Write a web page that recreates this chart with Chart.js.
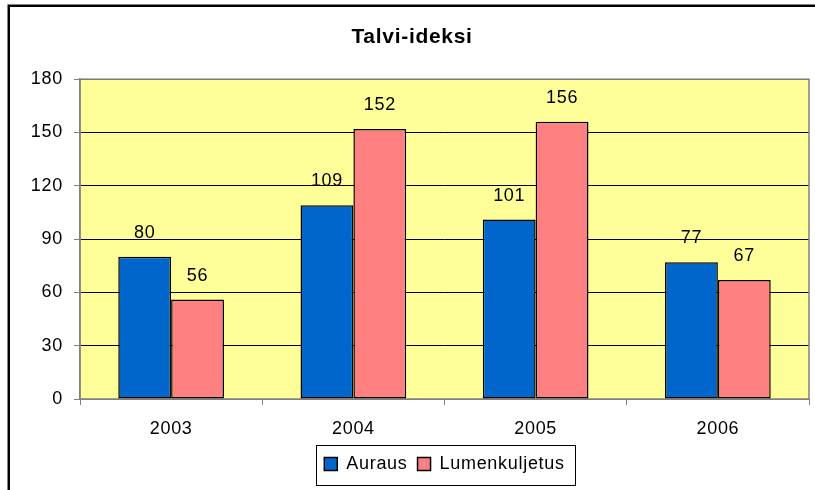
<!DOCTYPE html>
<html>
<head>
<meta charset="utf-8">
<script src="https://cdn.jsdelivr.net/npm/chart.js@4.4.1/dist/chart.umd.min.js"></script>
<style>
    html, body { margin: 0; padding: 0; background: #fff; }
    #wrap { width: 815px; height: 490px; }
</style>
</head>
<body>
<div id="wrap"><canvas id="chart_canvas" width="815" height="490"></canvas></div>
<script>
const years = ['2003', '2004', '2005', '2006'];
const auraus = [80, 109, 101, 77];
const lumenkuljetus = [56, 152, 156, 67];
const y_ticks = [0, 30, 60, 90, 120, 150, 180];

const COLORS = {
    blue: '#0066CC',
    pink: '#FF8080',
    plot_bg: '#FFFF99',
    gray: '#808080'
};

Chart.defaults.font.family = "'Liberation Sans', Arial, sans-serif";
Chart.defaults.color = '#000';

// letter spacing like the original renderer
const spacing_plugin = {
    id: 'spacing_plugin',
    beforeLayout: (chart) => { chart.ctx.letterSpacing = '0.7px'; },
    beforeDraw: (chart) => { chart.ctx.letterSpacing = '0.7px'; }
};

const plot_background = {
    id: 'plot_background',
    beforeDraw: (chart) => {
        const {ctx, chartArea} = chart;
        ctx.save();
        ctx.fillStyle = COLORS.plot_bg;
        ctx.fillRect(chartArea.left, chartArea.top, chartArea.right - chartArea.left, chartArea.bottom - chartArea.top);
        ctx.restore();
    },
    beforeDatasetsDraw: (chart) => {
        const {ctx, chartArea} = chart;
        ctx.save();
        ctx.strokeStyle = COLORS.gray;
        ctx.lineWidth = 1.5;
        ctx.strokeRect(chartArea.left, chartArea.top, chartArea.right - chartArea.left, chartArea.bottom - chartArea.top);
        ctx.restore();
    }
};

const value_labels = {
    id: 'value_labels',
    afterDatasetsDraw: (chart) => {
        const ctx = chart.ctx;
        ctx.save();
        ctx.font = "18px 'Liberation Sans', Arial, sans-serif";
        ctx.fillStyle = '#000';
        ctx.textAlign = 'center';
        ctx.textBaseline = 'alphabetic';
        chart.data.datasets.forEach((ds, i) => {
            chart.getDatasetMeta(i).data.forEach((bar, j) => {
                ctx.fillText(String(ds.data[j]), bar.x, bar.y - 19);
            });
        });
        ctx.restore();
    }
};

const frame_plugin = {
    id: 'frame_plugin',
    afterDraw: (chart) => {
        const ctx = chart.ctx;
        ctx.save();
        // legend box
        const boxes = chart.legend.legendHitBoxes;
        if (boxes && boxes.length) {
            const first = boxes[0];
            const last = boxes[boxes.length - 1];
            const left = first.left - 8;
            const right = last.left + last.width + 11;
            const top = first.top - 10;
            const bottom = first.top + first.height + 12;
            ctx.strokeStyle = '#000';
            ctx.lineWidth = 1;
            ctx.strokeRect(Math.round(left) + 0.5, Math.round(top) + 0.5, Math.round(right - left), Math.round(bottom - top));
        }
        // outer chart border (cropped on right and bottom)
        ctx.strokeStyle = '#000';
        ctx.lineWidth = 2.5;
        ctx.strokeRect(8.75, 5.75, 900, 900);
        ctx.restore();
    }
};

const config = {
    type: 'bar',
    data: {
        labels: years,
        datasets: [
            {
                label: 'Auraus',
                data: auraus,
                backgroundColor: COLORS.blue,
                borderColor: '#000',
                borderWidth: 1.5,
                borderSkipped: false
            },
            {
                label: 'Lumenkuljetus',
                data: lumenkuljetus,
                backgroundColor: COLORS.pink,
                borderColor: '#000',
                borderWidth: 1.5,
                borderSkipped: false
            }
        ]
    },
    options: {
        responsive: false,
        animation: false,
        categoryPercentage: 0.58,
        barPercentage: 1.0,
        layout: {
            padding: { left: 15, right: 6, top: 0, bottom: 7 }
        },
        scales: {
            x: {
                grid: {
                    display: true,
                    offset: true,
                    drawOnChartArea: false,
                    tickLength: 6,
                    tickColor: COLORS.gray
                },
                border: { color: COLORS.gray, width: 1 },
                ticks: {
                    font: { size: 18 },
                    color: '#000',
                    padding: 13
                },
                afterFit: (scale) => { scale.height = 46; }
            },
            y: {
                min: 0,
                max: 180,
                afterBuildTicks: (scale) => {
                    scale.ticks = y_ticks.map(v => ({ value: v }));
                },
                grid: {
                    color: '#000',
                    lineWidth: 1,
                    tickLength: 6,
                    tickColor: COLORS.gray
                },
                border: { color: COLORS.gray, width: 1.5 },
                ticks: {
                    font: { size: 18 },
                    color: '#000',
                    padding: 11
                },
                afterFit: (scale) => { scale.width = 65; }
            }
        },
        plugins: {
            title: {
                display: true,
                text: 'Talvi-ideksi',
                color: '#000',
                font: { size: 21, weight: 'bold' },
                padding: { top: 25, bottom: 29 }
            },
            legend: {
                position: 'bottom',
                fullSize: false,
                labels: {
                    boxWidth: 13,
                    boxHeight: 13,
                    padding: 10,
                    font: { size: 18 },
                    color: '#000'
                }
            },
            tooltip: { enabled: false }
        }
    },
    plugins: [spacing_plugin, plot_background, value_labels, frame_plugin]
};

new Chart(document.getElementById('chart_canvas').getContext('2d'), config);
</script>
</body>
</html>
